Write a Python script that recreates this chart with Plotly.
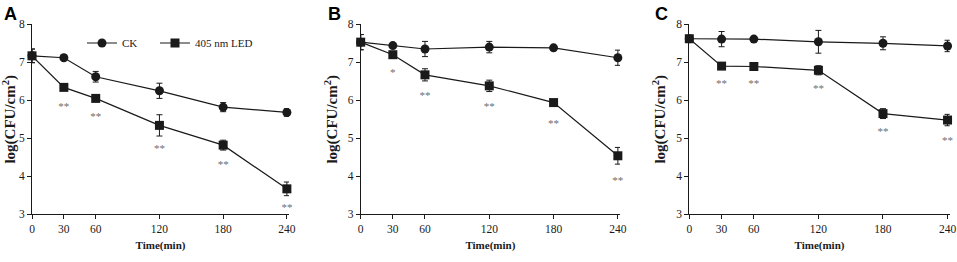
import plotly.graph_objects as go

times = [0, 30, 60, 120, 180, 240]

a_ck = [7.17, 7.12, 6.62, 6.25, 5.82, 5.68]
a_ck_err = [0.18, 0.05, 0.14, 0.20, 0.12, 0.10]
a_led = [7.17, 6.34, 6.05, 5.34, 4.82, 3.67]
a_led_err = [0.18, 0.05, 0.05, 0.28, 0.13, 0.18]
a_star_y = [5.83, 5.55, 4.72, 4.28, 3.16]
a_star_txt = ["**", "**", "**", "**", "**"]

b_ck = [7.53, 7.44, 7.35, 7.40, 7.38, 7.12]
b_ck_err = [0.20, 0.05, 0.20, 0.15, 0.05, 0.20]
b_led = [7.53, 7.20, 6.67, 6.38, 5.94, 4.54]
b_led_err = [0.20, 0.05, 0.16, 0.15, 0.07, 0.22]
b_star_y = [6.71, 6.10, 5.82, 5.38, 3.86]
b_star_txt = ["*", "**", "**", "**", "**"]

c_ck = [7.62, 7.61, 7.61, 7.54, 7.50, 7.43]
c_ck_err = [0.05, 0.20, 0.05, 0.30, 0.17, 0.15]
c_led = [7.62, 6.90, 6.89, 6.79, 5.65, 5.48]
c_led_err = [0.05, 0.05, 0.05, 0.12, 0.13, 0.15]
c_star_y = [6.43, 6.43, 6.29, 5.15, 4.91]
c_star_txt = ["**", "**", "**", "**", "**"]

panel_labels = ["A", "B", "C"]
series_names = ["CK", "405 nm LED"]

W, H = 957, 262
ink = "#1a1a1a"
serif = "Liberation Serif, Times New Roman, serif"

panels = [
    (a_ck, a_ck_err, a_led, a_led_err, a_star_y, a_star_txt),
    (b_ck, b_ck_err, b_led, b_led_err, b_star_y, b_star_txt),
    (c_ck, c_ck_err, c_led, c_led_err, c_star_y, c_star_txt),
]
x_domains_px = [(32, 289), (360.7, 620), (689.3, 949.7)]
letter_x_px = [3, 327, 654]

fig = go.Figure()
for i, (ck, ckerr, led, lederr, sy, st) in enumerate(panels):
    xa = "x" if i == 0 else f"x{i+1}"
    ya = "y" if i == 0 else f"y{i+1}"
    fig.add_trace(go.Scatter(
        x=times, y=ck, name=series_names[0], mode="lines+markers",
        xaxis=xa, yaxis=ya, showlegend=(i == 0), legend="legend", cliponaxis=False,
        line=dict(color=ink, width=1.2),
        marker=dict(symbol="circle", size=9, color=ink),
        error_y=dict(type="data", array=ckerr, color=ink, thickness=1, width=3),
    ))
    fig.add_trace(go.Scatter(
        x=times, y=led, name=series_names[1], mode="lines+markers",
        xaxis=xa, yaxis=ya, showlegend=(i == 0), legend="legend2", cliponaxis=False,
        line=dict(color=ink, width=1.2),
        marker=dict(symbol="square", size=9, color=ink),
        error_y=dict(type="data", array=lederr, color=ink, thickness=1, width=3),
    ))
    fig.add_trace(go.Scatter(
        x=times[1:], y=sy, text=st, mode="text", xaxis=xa, yaxis=ya,
        showlegend=False, cliponaxis=False,
        textfont=dict(family=serif, size=11, color="#6e6e6e"),
        hoverinfo="skip",
    ))

leg_common = dict(orientation="h", xanchor="left", yanchor="middle", y=1 - 43 / H,
                  font=dict(family=serif, size=11, color=ink), bgcolor="rgba(0,0,0,0)",
                  itemwidth=30, borderwidth=0)
layout = dict(
    width=W, height=H, paper_bgcolor="white", plot_bgcolor="white",
    margin=dict(l=0, r=0, t=0, b=0, pad=0, autoexpand=False),
    font=dict(family=serif, color=ink, size=11),
    legend=dict(x=82 / W, **leg_common),
    legend2=dict(x=155 / W, **leg_common),
)
annotations = []
for i, (x0, x1) in enumerate(x_domains_px):
    sfx = "" if i == 0 else str(i + 1)
    layout[f"xaxis{sfx}"] = dict(
        domain=[x0 / W, x1 / W], range=[0, 242], anchor=f"y{sfx}",
        tickvals=times, ticks="outside", ticklen=4, tickcolor=ink,
        showline=True, linecolor=ink, linewidth=1, showgrid=False, zeroline=False,
        tickfont=dict(family=serif, size=11.5, color=ink),
        title=dict(text="<b>Time(min)</b>", font=dict(family=serif, size=11, color=ink), standoff=7),
    )
    layout[f"yaxis{sfx}"] = dict(
        domain=[1 - 214.3 / H, 1 - 24.3 / H], range=[3, 8], anchor=f"x{sfx}",
        tickvals=[3, 4, 5, 6, 7, 8], ticks="outside", ticklen=4, tickcolor=ink,
        showline=True, linecolor=ink, linewidth=1, showgrid=False, zeroline=False,
        tickfont=dict(family=serif, size=11.5, color=ink),
        title=dict(text="<b>log(CFU/cm<sup>2</sup>)</b>", font=dict(family=serif, size=15, color=ink), standoff=6),
    )
    annotations.append(dict(
        text="<b>" + panel_labels[i] + "</b>", x=letter_x_px[i] / W, y=1 - 3 / H,
        xref="paper", yref="paper", xanchor="left", yanchor="top", showarrow=False,
        borderpad=0,
        font=dict(family="Liberation Sans, Arial, sans-serif", size=18, color="black"),
    ))
layout["annotations"] = annotations
fig.update_layout(**layout)
fig.write_html("out.html", config={"displayModeBar": False},
               post_script="document.body.style.margin='0';document.body.style.overflow='hidden';")
